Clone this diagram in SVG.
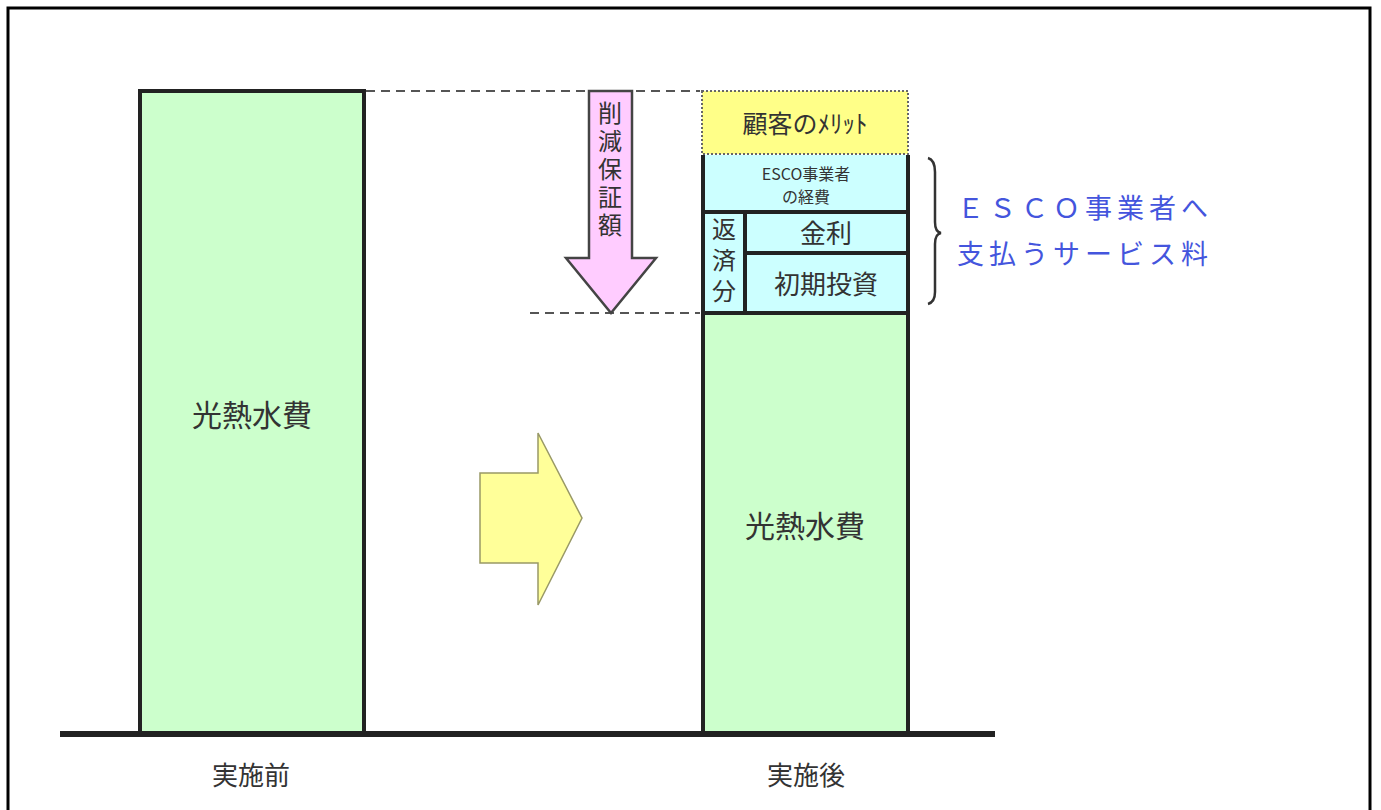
<svg xmlns="http://www.w3.org/2000/svg" width="1381" height="810" viewBox="0 0 1381 810">
<style>
.t{font-family:"Noto Sans CJK JP","Noto Sans CJK SC",sans-serif;fill:#333;text-anchor:middle}
.v{font-family:"Noto Sans CJK JP","Noto Sans CJK SC",sans-serif;fill:#333;writing-mode:vertical-rl;text-anchor:start}
.bar{fill:#ccffcc;stroke:#222;stroke-width:4}
.cy{fill:#ccffff;stroke:#222;stroke-width:4}
.dash{stroke:#555;stroke-width:2;stroke-dasharray:9,6;fill:none}
.blue{font-family:"Noto Sans CJK JP",sans-serif;fill:#4455dd;font-size:27px}
</style>
<rect x="0" y="0" width="1381" height="810" fill="#fff"/>
<rect x="8" y="8" width="1362" height="820" fill="none" stroke="#000" stroke-width="3"/>
<g id="connectors">
<line class="dash" x1="366" y1="91" x2="700" y2="91"/>
<line class="dash" x1="530" y1="313" x2="700" y2="313"/>
<path d="M928,158 Q935,160 935,172 L935,222 Q935,232 941,233 Q935,234 935,244 L935,292 Q935,302 928,304" fill="none" stroke="#333" stroke-width="2.5"/>
</g>
<g id="before">
<rect class="bar" x="140" y="91" width="224" height="642"/>
<text class="t" x="252" y="426" font-size="30">光熱水費</text>
</g>
<g id="after">
<rect class="bar" x="703" y="313" width="205" height="420"/>
<text class="t" x="805" y="537" font-size="30">光熱水費</text>
</g>
<g id="merit">
<rect x="702" y="91" width="206" height="63" fill="#ffff88" stroke="#666" stroke-width="2" stroke-dasharray="2,2"/>
<text class="t" x="805" y="133" font-size="25">顧客のﾒﾘｯﾄ</text>
</g>
<g id="esco">
<rect x="703" y="155" width="205" height="57" fill="#ccffff"/>
<text class="t" x="806" y="180" font-size="16" fill="#555">ESCO事業者</text>
<text class="t" x="806" y="203" font-size="16" fill="#555">の経費</text>
</g>
<g id="henzai">
<rect class="cy" x="703" y="212" width="42" height="101"/>
<text class="v" x="724" y="217" font-size="24" letter-spacing="7">返済分</text>
</g>
<g id="kinri">
<rect class="cy" x="745" y="212" width="163" height="41"/>
<text class="t" x="826" y="243" font-size="26">金利</text>
</g>
<g id="shoki">
<rect class="cy" x="745" y="253" width="163" height="60"/>
<text class="t" x="826" y="294" font-size="26">初期投資</text>
</g>
<line x1="703" y1="155" x2="703" y2="213" stroke="#222" stroke-width="4"/>
<line x1="908" y1="155" x2="908" y2="213" stroke="#222" stroke-width="4"/>
<g id="reduction">
<path d="M589,91 L632,91 L632,258 L656,258 L611,313 L566,258 L589,258 Z" fill="#ffccff" stroke="#444" stroke-width="2.5"/>
<text class="v" x="610" y="101" font-size="24" letter-spacing="4">削減保証額</text>
</g>
<g id="service">
<text class="blue" x="957" y="218" letter-spacing="5">ＥＳＣＯ事業者へ</text>
<text class="blue" x="957" y="264" letter-spacing="5">支払うサービス料</text>
</g>
<g id="transition">
<path d="M480,473 L538,473 L538,433 L582,518 L538,605 L538,563 L480,563 Z" fill="#ffff99" stroke="#999966" stroke-width="1.5"/>
</g>
<g id="axis">
<line x1="60" y1="734" x2="995" y2="734" stroke="#222" stroke-width="6"/>
<text class="t" x="251" y="785" font-size="26">実施前</text>
<text class="t" x="806" y="785" font-size="26">実施後</text>
</g>
</svg>
